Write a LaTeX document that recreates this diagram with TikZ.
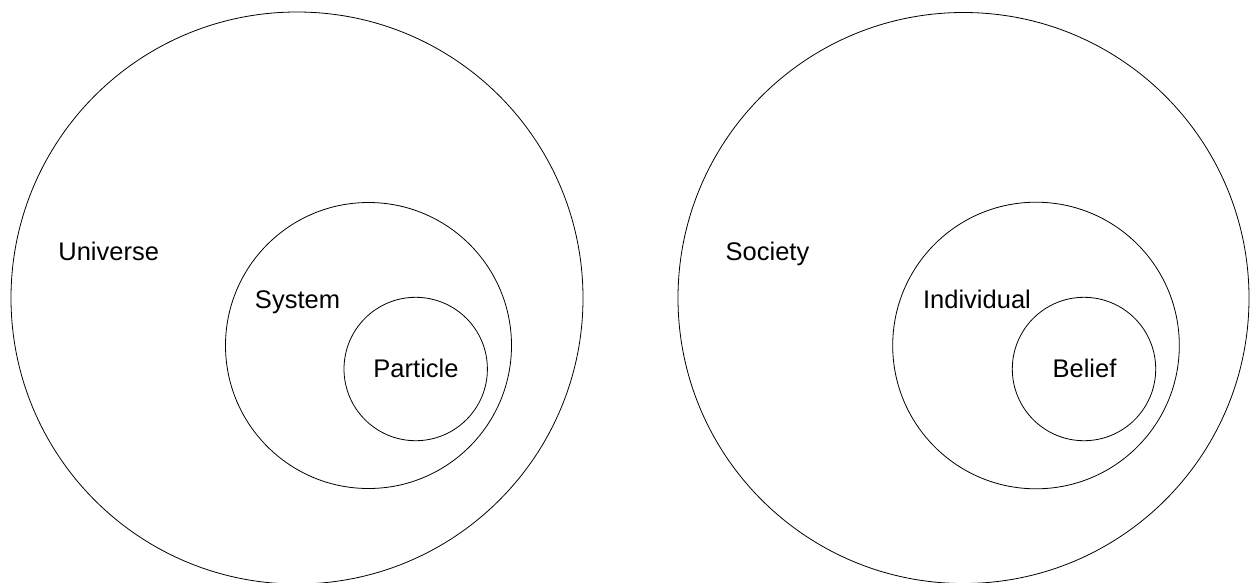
\documentclass[tikz,border=0pt]{standalone}
\usepackage{fontspec}
\setmainfont{Liberation Sans}
\begin{document}
\begin{tikzpicture}[x=1pt,y=-1pt,
  ring/.style={draw=black,line width=0.8pt,circle,inner sep=0pt,fill=none},
  lbl/.style={anchor=base,inner sep=0pt,font=\fontsize{25.5}{30}\selectfont}]
\useasboundingbox (0,0) rectangle (1250,582);
\clip (0,0) rectangle (1250,582);
\fill[white] (0,0) rectangle (1250,582);
% left group
\node[ring,minimum size=572pt] (universe) at (297,298) {};
\node[ring,minimum size=286pt] (system) at (368.5,345.5) {};
\node[ring,minimum size=143.4pt] (particle) at (415.7,369) {};
\node[lbl] (tuniverse) at (108.7,260) {Universe};
\node[lbl] (tsystem) at (297.5,308.5) {System};
\node[lbl] (tparticle) at (416,377) {Particle};
% right group
\node[ring,minimum size=571pt] (society) at (963.5,298) {};
\node[ring,minimum size=286.6pt] (individual) at (1036,345.5) {};
\node[ring,minimum size=143.4pt] (belief) at (1084,369) {};
\node[lbl] (tsociety) at (767.5,260) {Society};
\node[lbl] (tindividual) at (977,308.5) {Individual};
\node[lbl] (tbelief) at (1084.5,377) {Belief};
\end{tikzpicture}
\end{document}
